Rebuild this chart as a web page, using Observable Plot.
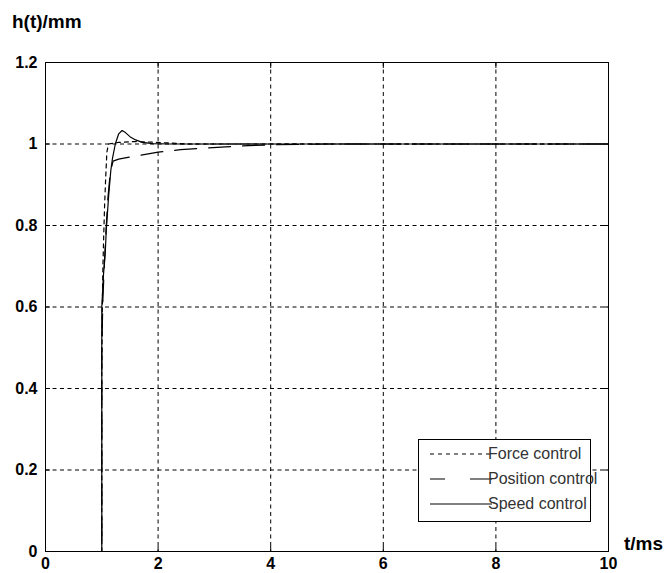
<!DOCTYPE html>
<html><head><meta charset="utf-8">
<script src="https://cdn.jsdelivr.net/npm/d3@7"></script>
<script src="https://cdn.jsdelivr.net/npm/@observablehq/plot@0.6"></script>
<style>
body{margin:0;background:#fff;}
#wrap{position:relative;width:665px;height:573px;}
</style></head><body><div id="wrap"></div>
<script>
// ---- data ----
const forceT = [0, 1, 1, 1.01, 1.02, 1.035, 1.05, 1.07, 1.09, 1.12, 1.3, 1.6, 2.0, 2.5, 10];
const forceH = [0, 0, 0.45, 0.6, 0.7, 0.78, 0.85, 0.92, 0.98, 1.0, 1.004, 1.006, 1.004, 1.0, 1.0];
const posT = [0, 1, 1, 1.02, 1.05, 1.08, 1.11, 1.15, 1.2, 1.3, 1.5, 1.8, 2.0, 2.4, 2.8, 3.2, 3.6, 4.0, 4.5, 5.0, 10];
const posH = [0, 0, 0.5, 0.62, 0.72, 0.8, 0.87, 0.93, 0.958, 0.963, 0.968, 0.975, 0.98, 0.986, 0.99, 0.993, 0.996, 0.998, 0.999, 1.0, 1.0];
const speedT = [0, 1, 1, 1.03, 1.06, 1.08, 1.12, 1.16, 1.19, 1.24, 1.3, 1.36, 1.42, 1.5, 1.6, 1.72, 1.9, 2.2, 10];
const speedH = [0, 0, 0.6, 0.68, 0.73, 0.79, 0.87, 0.935, 0.965, 1.0, 1.025, 1.033, 1.028, 1.018, 1.01, 1.004, 1.001, 1.0, 1.0];
const seriesNames = ["Force control", "Position control", "Speed control"];
const xTicks = [0, 2, 4, 6, 8, 10];
const yTicks = [0, 0.2, 0.4, 0.6, 0.8, 1, 1.2];
const xLabel = "t/ms";
const yLabel = "h(t)/mm";

// ---- build ----
const toRows = (ts, hs) => ts.map((t, i) => ({t, h: hs[i]}));
const series = [
  {name: seriesNames[0], rows: toRows(forceT, forceH), dash: "4,4"},
  {name: seriesNames[1], rows: toRows(posT, posH), dash: "22,12"},
  {name: seriesNames[2], rows: toRows(speedT, speedH), dash: null}
];
const FONT = "'Liberation Sans', Arial, Helvetica, sans-serif";
const inner = xTicks.slice(1, -1);
const innerY = yTicks.slice(1, -1);
const noText = () => "";

const plot = Plot.plot({
  width: 665, height: 573,
  marginTop: 62, marginLeft: 45, marginRight: 57, marginBottom: 22,
  x: {domain: [0, 10]},
  y: {domain: [0, 1.2]},
  style: {fontFamily: FONT, fontSize: "16px", fontWeight: "bold", color: "black", background: "white", overflow: "visible"},
  marks: [
    Plot.gridX(inner, {stroke: "black", strokeOpacity: 1, strokeWidth: 1, strokeDasharray: "4,3.5"}),
    Plot.gridY(innerY, {stroke: "black", strokeOpacity: 1, strokeWidth: 1, strokeDasharray: "4,3.5"}),
    Plot.axisX(xTicks, {anchor: "bottom", tickSize: 0, tickPadding: 6, label: null, tickFormat: d => String(d)}),
    Plot.axisY(yTicks, {anchor: "left", tickSize: 0, tickPadding: 8, label: null, tickFormat: d => String(d)}),
    Plot.axisX(xTicks, {anchor: "bottom", tickSize: -5, label: null, tickFormat: noText}),
    Plot.axisX(xTicks, {anchor: "top", tickSize: -5, label: null, tickFormat: noText}),
    Plot.axisY(yTicks, {anchor: "left", tickSize: -5, label: null, tickFormat: noText}),
    Plot.axisY(yTicks, {anchor: "right", tickSize: -5, label: null, tickFormat: noText}),
    ...series.map(s => Plot.line(s.rows, {x: "t", y: "h", stroke: "black", strokeWidth: 1.2, strokeDasharray: s.dash, curve: "linear"})),
    Plot.frame({stroke: "black", strokeWidth: 1})
  ]
});
document.getElementById("wrap").appendChild(plot);

// ---- axis titles & legend ----
const svg = d3.select(plot);
svg.append("text").attr("x", 12).attr("y", 28).attr("text-anchor", "start").attr("font-family", FONT).attr("font-weight", "bold")
  .attr("font-size", 19).attr("fill", "black").text(yLabel);
svg.append("text").attr("x", 624).attr("y", 550).attr("text-anchor", "start").attr("font-family", FONT).attr("font-weight", "bold")
  .attr("font-size", 19).attr("fill", "black").text(xLabel);

const lg = svg.append("g").attr("text-anchor", "start");
lg.append("rect").attr("x", 418.5).attr("y", 439.5).attr("width", 172).attr("height", 82)
  .attr("fill", "white").attr("stroke", "black").attr("stroke-width", 1);
const legDash = ["4,4", "15,25,30", null];
series.forEach((s, i) => {
  const y = 454 + i * 25;
  lg.append("line").attr("x1", 430).attr("x2", 492).attr("y1", y).attr("y2", y)
    .attr("stroke", "black").attr("stroke-width", 1.2).attr("stroke-dasharray", legDash[i]);
  lg.append("text").attr("x", 488).attr("y", y + 4.5).attr("font-family", FONT).attr("font-size", 16)
    .attr("font-weight", "normal").attr("fill", "#333").text(s.name);
});
</script></body></html>
